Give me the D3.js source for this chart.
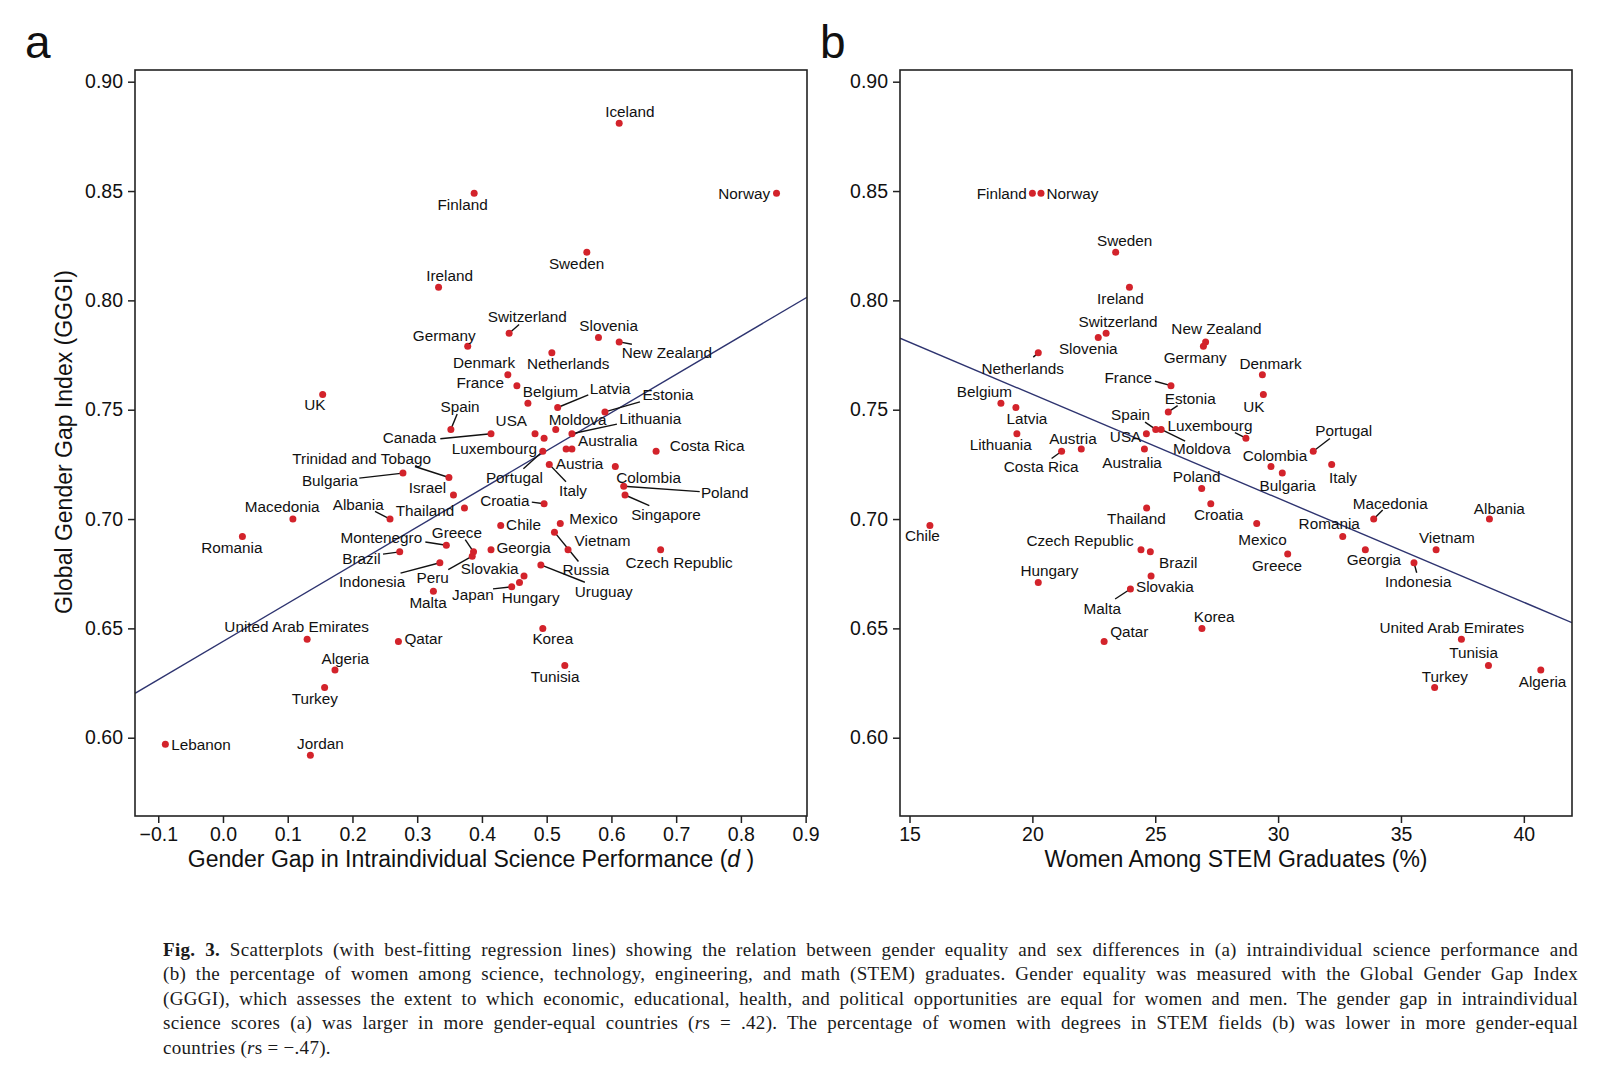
<!DOCTYPE html>
<html><head><meta charset="utf-8">
<script src="https://cdnjs.cloudflare.com/ajax/libs/d3/7.8.5/d3.min.js"></script>
<style>
body{margin:0;background:#fff;width:1600px;height:1085px;overflow:hidden;position:relative}
svg{position:absolute;left:0;top:0}
#cap{position:absolute;left:163px;top:938px;width:1415px;font-family:"Liberation Serif","Times New Roman",serif;font-size:19px;letter-spacing:0.3px;color:#1a1a1a;line-height:24.4px}
#cap .ln{text-align:justify;text-align-last:justify;height:24.4px}
#cap .last{text-align:left;text-align-last:left}
</style></head><body>
<svg id="chart" width="1600" height="1085"></svg>
<div id="cap"></div>
<script>
// ---------- DATA ----------
const countriesA = ["Iceland","Finland","Norway","Sweden","Ireland","Switzerland","Slovenia","Germany","New Zealand","Netherlands","Denmark","France","Belgium","Latvia","Estonia","UK","Spain","Moldova","USA","Lithuania","Canada","Luxembourg","Austria","Australia","Costa Rica","Portugal","Trinidad and Tobago","Bulgaria","Colombia","Italy","Israel","Poland","Singapore","Thailand","Croatia","Macedonia","Albania","Chile","Mexico","Romania","Russia","Montenegro","Vietnam","Georgia","Czech Republic","Brazil","Greece","Peru","Indonesia","Uruguay","Slovakia","Hungary","Japan","Malta","United Arab Emirates","Qatar","Korea","Algeria","Tunisia","Turkey","Lebanon","Jordan"];
const scienceGapA = [0.612,0.388,0.855,0.562,0.333,0.442,0.580,0.378,0.612,0.508,0.440,0.454,0.471,0.517,0.590,0.154,0.352,0.514,0.482,0.539,0.414,0.496,0.530,0.539,0.669,0.494,0.349,0.278,0.606,0.504,0.356,0.619,0.621,0.373,0.496,0.108,0.258,0.429,0.521,0.030,0.512,0.345,0.533,0.414,0.676,0.273,0.387,0.385,0.335,0.491,0.465,0.458,0.446,0.325,0.130,0.271,0.494,0.173,0.528,0.157,-0.089,0.135];
const gggiA = [0.881,0.849,0.849,0.822,0.806,0.785,0.783,0.779,0.781,0.776,0.766,0.761,0.753,0.751,0.749,0.757,0.741,0.741,0.739,0.739,0.739,0.737,0.732,0.732,0.731,0.731,0.719,0.721,0.724,0.725,0.711,0.715,0.711,0.705,0.707,0.700,0.700,0.697,0.698,0.692,0.694,0.688,0.686,0.686,0.686,0.685,0.685,0.683,0.680,0.679,0.674,0.671,0.669,0.667,0.645,0.644,0.650,0.631,0.633,0.623,0.597,0.592];
const fitA = [0.6440, 0.1745]; // intercept, slope

const countriesB = ["Finland","Norway","Sweden","Ireland","Switzerland","Slovenia","New Zealand","Germany","Netherlands","Denmark","UK","France","Belgium","Latvia","Estonia","Lithuania","Spain","Moldova","USA","Luxembourg","Austria","Costa Rica","Australia","Portugal","Colombia","Bulgaria","Italy","Poland","Croatia","Thailand","Macedonia","Albania","Mexico","Romania","Chile","Czech Republic","Brazil","Georgia","Vietnam","Greece","Indonesia","Slovakia","Hungary","Malta","Qatar","Korea","United Arab Emirates","Tunisia","Algeria","Turkey"];
const womenStemB = [20.00,20.35,23.39,23.95,23.00,22.68,27.05,26.96,20.24,29.36,29.40,25.64,18.72,19.33,25.53,19.37,25.02,25.24,24.64,28.69,21.99,21.19,24.56,31.43,29.71,30.17,32.18,26.89,27.26,24.65,33.89,38.60,29.13,32.63,15.83,24.42,24.80,33.55,36.43,30.39,35.53,24.83,20.24,23.99,22.92,26.90,37.46,38.56,40.69,36.37];
const gggiB = [0.849,0.849,0.822,0.806,0.785,0.783,0.781,0.779,0.776,0.766,0.757,0.761,0.753,0.751,0.749,0.739,0.741,0.741,0.739,0.737,0.732,0.731,0.732,0.731,0.724,0.721,0.725,0.714,0.707,0.705,0.700,0.700,0.698,0.692,0.697,0.686,0.685,0.686,0.686,0.684,0.680,0.674,0.671,0.668,0.644,0.650,0.645,0.633,0.631,0.623];
const fitB = [0.8522, -0.004757];

const yTicks = [0.60,0.65,0.70,0.75,0.80,0.85,0.90];
const xTicksA = [-0.1,0,0.1,0.2,0.3,0.4,0.5,0.6,0.7,0.8,0.9];
const xTicksB = [15,20,25,30,35,40];

// ---------- LABEL LAYOUT (pixel offsets from point) ----------
const labA = {"Iceland":[10.7,-12],"Finland":[-11.6,11.7],"Norway":[-32.3,0],"Sweden":[-10.3,11],"Ireland":[11,-12],"Switzerland":[18.2,-16.6],"Slovenia":[10.2,-11.7],"New Zealand":[47.7,10.7],"Germany":[-23.4,-10.6],"Netherlands":[16.3,11],"Denmark":[-23.8,-12.3],"France":[-36.7,-3.4],"Belgium":[22.5,-11.6],"Latvia":[52.5,-19.4],"Estonia":[63,-17.3],"Lithuania":[78.3,-15.3],"Moldova":[21.8,-9.7],"USA":[-23.7,-13.4],"Canada":[-81.5,3.3],"Luxembourg":[-49.7,10],"Australia":[35.8,-8.3],"Austria":[13.4,14.4],"Costa Rica":[51,-6],"Colombia":[33.3,11],"Portugal":[-28.4,26.6],"Italy":[23.7,26],"Poland":[101,6.7],"Singapore":[41,19.7],"Croatia":[-39.3,-3.3],"Chile":[22.8,-1.4],"Mexico":[33.2,-5],"Vietnam":[34.5,-9],"Georgia":[32.6,-2.3],"Czech Republic":[18.5,12.7],"Russia":[31.5,37.7],"Uruguay":[62.8,26.7],"Hungary":[11.2,15],"Japan":[-38.8,7.3],"Slovakia":[-34.3,-7.3],"Peru":[-39.5,21.6],"Greece":[-16.6,-19.6],"Montenegro":[-65,-7.6],"Brazil":[-38.3,6.6],"Indonesia":[-67.8,18.7],"Malta":[-5.3,11.6],"Thailand":[-39.4,2.7],"Israel":[-26.1,-7.3],"Trinidad and Tobago":[-87.3,-19],"Bulgaria":[-73,7.7],"Albania":[-31.8,-15],"Macedonia":[-10.7,-12.6],"Romania":[-10.5,11],"UK":[-7.9,9.6],"Spain":[9.2,-23],"United Arab Emirates":[-10.5,-12.7],"Qatar":[25.1,-3],"Algeria":[10.3,-11.6],"Turkey":[-9.9,11],"Lebanon":[35.7,0],"Jordan":[10,-11.4],"Korea":[10,10.6],"Tunisia":[-9.7,10.6]};
const leadA = {"Switzerland":[10,-8.6],"New Zealand":[12.7,2.3],"Latvia":[30.6,-12.7],"Estonia":[35,-10],"Lithuania":[45,-9.7],"Canada":[-50.7,5],"Portugal":[-19.4,17.6],"Italy":[16.7,17.4],"Poland":[76,5.4],"Singapore":[24.3,10.7],"Croatia":[-12.3,-1.6],"Russia":[24,29.3],"Uruguay":[44,17.3],"Japan":[-18.7,2],"Peru":[-24,13.3],"Greece":[-8.3,-12.3],"Montenegro":[-21,-3.3],"Brazil":[-16.7,2.3],"Indonesia":[-39.3,10.4],"Trinidad and Tobago":[-34,-11],"Bulgaria":[-43.7,5],"Albania":[-15,-7.6],"Spain":[6.3,-15.4]};
const labB = {"Finland":[-30.6,0],"Norway":[31.5,0],"Sweden":[9,-11.3],"Ireland":[-9,11],"Switzerland":[12,-12],"Slovenia":[-10,10.6],"New Zealand":[10.8,-13.3],"Germany":[-8.3,11],"Denmark":[8.2,-11.3],"UK":[-9.5,12.3],"Netherlands":[-15.6,15.3],"France":[-42.7,-8.4],"Estonia":[22,-13.7],"Belgium":[-16.5,-11.6],"Latvia":[11,10.6],"Lithuania":[-16.2,10.6],"Austria":[-8.3,-11],"Costa Rica":[-20.4,15.7],"USA":[-20.8,3],"Spain":[-25.2,-15],"Luxembourg":[-36,-12.3],"Moldova":[40.7,19.4],"Australia":[-12.3,13.4],"Poland":[-5,-11.7],"Croatia":[7.8,10.3],"Thailand":[-10.2,10.4],"Chile":[-7.5,10.3],"Czech Republic":[-61,-9],"Brazil":[27.9,10.7],"Hungary":[11.2,-12.4],"Slovakia":[13.8,10.7],"Malta":[-28.1,19],"Qatar":[25.2,-9.7],"Korea":[12.2,-12],"Mexico":[5.8,15.6],"Greece":[-10.7,11.7],"Portugal":[30.5,-21],"Colombia":[4,-11.4],"Bulgaria":[5.4,12.7],"Italy":[11.3,13],"Macedonia":[16.6,-16],"Albania":[9.9,-11],"Romania":[-13.5,-13],"Vietnam":[10.7,-11.7],"Georgia":[8.5,10.3],"Indonesia":[4.3,18.3],"United Arab Emirates":[-9.6,-11.4],"Tunisia":[-14.8,-12.7],"Turkey":[10.3,-11],"Algeria":[1.8,11.4]};
const leadB = {"Netherlands":[-5,4.3],"France":[-16,-4.4],"Estonia":[9.4,-6.3],"Costa Rica":[-10,7.3],"Spain":[-10.7,-7.3],"Luxembourg":[-11,-5.6],"Moldova":[24,11.7],"Malta":[-15.3,10],"Portugal":[16.7,-12.7],"Macedonia":[9,-9],"Indonesia":[2.7,10]};

// ---------- DRAW ----------
const svg = d3.select("#chart");
const FONT = "'Liberation Sans', Arial, Helvetica, sans-serif";
const yDomain = [0.5642, 0.90535];

function panel(opt){
  const {left,right,top,bottom,xDomain,names,xs,ys,fit,xTicks,fmt,labs,leads,title,letter,letterX} = opt;
  const x = d3.scaleLinear().domain(xDomain).range([left,right]);
  const y = d3.scaleLinear().domain(yDomain).range([bottom,top]);
  const g = svg.append("g");
  const ya = g.append("g").attr("transform",`translate(${left},0)`)
    .call(d3.axisLeft(y).tickValues(yTicks).tickFormat(d3.format(".2f")).tickSize(7).tickPadding(5));
  const xa = g.append("g").attr("transform",`translate(0,${bottom})`)
    .call(d3.axisBottom(x).tickValues(xTicks).tickFormat(fmt).tickSize(7).tickPadding(4));
  [ya,xa].forEach(a=>{
    a.select(".domain").remove();
    a.selectAll("line").attr("stroke","#222").attr("stroke-width",1.5);
    a.selectAll("text").attr("font-family",FONT).attr("font-size",19.5).attr("fill","#111");
  });
  const cid = "clip"+letter;
  g.append("clipPath").attr("id",cid).append("rect").attr("x",left).attr("y",top).attr("width",right-left).attr("height",bottom-top);
  const xd = x.domain();
  g.append("line").attr("clip-path",`url(#${cid})`)
    .attr("x1",x(xd[0])).attr("y1",y(fit[0]+fit[1]*xd[0]))
    .attr("x2",x(xd[1])).attr("y2",y(fit[0]+fit[1]*xd[1]))
    .attr("stroke","#2e3470").attr("stroke-width",1.4);
  const pts = names.map((n,i)=>({n, px:x(xs[i]), py:y(ys[i])}));
  g.selectAll("line.lead").data(pts.filter(p=>leads[p.n])).enter().append("line").attr("class","lead")
    .attr("x1",p=>p.px).attr("y1",p=>p.py)
    .attr("x2",p=>p.px+leads[p.n][0]).attr("y2",p=>p.py+leads[p.n][1])
    .attr("stroke","#111").attr("stroke-width",1.4);
  g.selectAll("circle").data(pts).enter().append("circle")
    .attr("cx",p=>p.px).attr("cy",p=>p.py).attr("r",3.5).attr("fill","#d3232b");
  g.selectAll("text.lab").data(pts.filter(p=>labs[p.n])).enter().append("text").attr("class","lab")
    .attr("x",p=>p.px+labs[p.n][0]).attr("y",p=>p.py+labs[p.n][1]).attr("dy","0.36em")
    .attr("text-anchor","middle").attr("font-family",FONT).attr("font-size",15.3).attr("fill","#111")
    .text(p=>p.n);
  g.append("rect").attr("x",left).attr("y",top).attr("width",right-left).attr("height",bottom-top)
    .attr("fill","none").attr("stroke","#222").attr("stroke-width",1.6);
  const t = g.append("text").attr("x",(left+right)/2).attr("y",867).attr("text-anchor","middle")
    .attr("font-family",FONT).attr("font-size",23).attr("fill","#111");
  title(t);
  svg.append("text").attr("x",letterX).attr("y",58).attr("font-family",FONT).attr("font-size",46).attr("fill","#111").text(letter);
}

panel({left:135,right:807,top:70,bottom:816,xDomain:[-0.1359,0.9021],names:countriesA,xs:scienceGapA,ys:gggiA,fit:fitA,
  xTicks:xTicksA,fmt:d3.format(".1f"),labs:labA,leads:leadA,letter:"a",letterX:25,
  title:t=>{t.append("tspan").text("Gender Gap in Intraindividual Science Performance (");t.append("tspan").attr("font-style","italic").text("d");t.append("tspan").text(" )");}});
panel({left:900,right:1572,top:70,bottom:816,xDomain:[14.613,41.96],names:countriesB,xs:womenStemB,ys:gggiB,fit:fitB,
  xTicks:xTicksB,fmt:d3.format("d"),labs:labB,leads:leadB,letter:"b",letterX:820,
  title:t=>t.text("Women Among STEM Graduates (%)")});

svg.append("text").attr("transform","translate(72,442) rotate(-90)").attr("text-anchor","middle")
  .attr("font-family",FONT).attr("font-size",23).attr("fill","#111").text("Global Gender Gap Index (GGGI)");

// ---------- CAPTION ----------
const captionLines = [
  "<b>Fig. 3.</b> Scatterplots (with best-fitting regression lines) showing the relation between gender equality and sex differences in (a) intraindividual science performance and",
  "(b) the percentage of women among science, technology, engineering, and math (STEM) graduates. Gender equality was measured with the Global Gender Gap Index",
  "(GGGI), which assesses the extent to which economic, educational, health, and political opportunities are equal for women and men. The gender gap in intraindividual",
  "science scores (a) was larger in more gender-equal countries (<i>r</i>s = .42). The percentage of women with degrees in STEM fields (b) was lower in more gender-equal",
  "countries (<i>r</i>s = −.47)."
];
d3.select("#cap").selectAll("div").data(captionLines).enter().append("div")
  .attr("class",(d,i)=>i===captionLines.length-1?"ln last":"ln").html(d=>d);
</script>
</body></html>
